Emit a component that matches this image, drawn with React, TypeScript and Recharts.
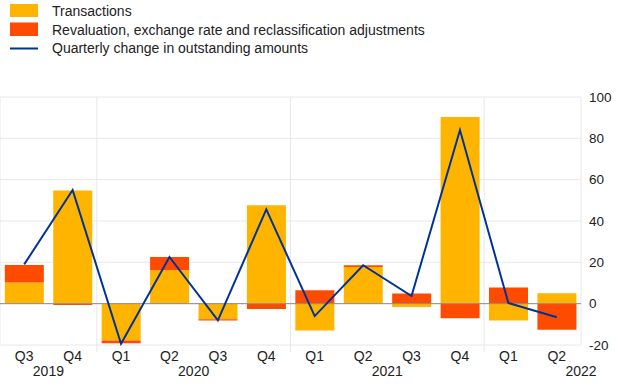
import React from "react";
import {
  ComposedChart,
  Bar,
  Line,
  XAxis,
  YAxis,
  CartesianGrid,
  ReferenceLine,
} from "recharts";

// ---- data ----
const quarters = ["Q3", "Q4", "Q1", "Q2", "Q3", "Q4", "Q1", "Q2", "Q3", "Q4", "Q1", "Q2"];
const years = ["2019", "2019", "2020", "2020", "2020", "2020", "2021", "2021", "2021", "2021", "2022", "2022"];
const transactions = [10.3, 54.7, -17.8, 16.2, -7.6, 47.6, -13.0, 17.8, -1.6, 90.3, -8.1, 5.1];
const revaluation = [8.4, -0.6, -1.3, 6.4, -0.5, -2.6, 6.5, 0.8, 4.9, -7.0, 7.8, -12.6];
const quarterlyChange = [19.0, 55.0, -19.4, 22.6, -8.1, 45.6, -6.0, 18.6, 3.7, 84.0, 0.3, -6.6];
const yTicks = [-20, 0, 20, 40, 60, 80, 100];

const seriesNames = {
  transactions: "Transactions",
  revaluation: "Revaluation, exchange rate and reclassification adjustments",
  change: "Quarterly change in outstanding amounts",
};

// ---- layout / style ----
const W = 620;
const H = 387;
const Y_AXIS_W = 39;
const PLOT_W = W - Y_AXIS_W;
const FONT = "'Liberation Sans', Arial, sans-serif";
const YELLOW = "#FFB400";
const ORANGE = "#FF4B00";
const BLUE = "#003299";
const TEXT = "#222";
const GRID = "#e8e8e8";
// shift of the year label from the first quarter tick of that year, in category steps
const yearShift: Record<string, number> = { "2019": 0.5, "2020": 1.5, "2021": 1.5, "2022": 1.5 };

const data = quarters.map((q, i) => ({
  key: `${q} ${years[i]}`,
  transactions: transactions[i],
  revaluation: revaluation[i],
  change: quarterlyChange[i],
}));

const yearBoundaries = [0];
years.forEach((y, i) => {
  if (i > 0 && y !== years[i - 1]) yearBoundaries.push(i);
});
yearBoundaries.push(years.length);

const QuarterTick = (props: any) => {
  const { x, y, index } = props;
  const step = PLOT_W / quarters.length;
  const isFirst = index === 0 || years[index] !== years[index - 1];
  return (
    <g>
      {isFirst && index > 0 && (
        <line x1={x - step / 2} x2={x - step / 2} y1={y - 8} y2={y - 1} stroke={GRID} />
      )}
      <text x={x} y={y} dy={8} textAnchor="middle" fontSize={14} fill={TEXT} fontFamily={FONT}>
        {quarters[index]}
      </text>
      {isFirst && (
        <text
          x={x + yearShift[years[index]] * step}
          y={y}
          dy={23}
          textAnchor="middle"
          fontSize={14}
          fill={TEXT}
          fontFamily={FONT}
        >
          {years[index]}
        </text>
      )}
    </g>
  );
};

const Legend = () => (
  <svg
    width={W}
    height={60}
    style={{ position: "absolute", left: 0, top: 0, pointerEvents: "none" }}
  >
    <rect x={10} y={4} width={28} height={13} fill={YELLOW} />
    <text x={52} y={16} fontSize={14} fill={TEXT} fontFamily={FONT}>
      {seriesNames.transactions}
    </text>
    <rect x={10} y={22.5} width={28} height={13.5} fill={ORANGE} />
    <text x={52} y={34.5} fontSize={14} fill={TEXT} fontFamily={FONT}>
      {seriesNames.revaluation}
    </text>
    <line x1={10} x2={38} y1={48.5} y2={48.5} stroke={BLUE} strokeWidth={2} />
    <text x={52} y={53} fontSize={14} fill={TEXT} fontFamily={FONT}>
      {seriesNames.change}
    </text>
  </svg>
);

export default function App() {
  return (
    <div style={{ position: "absolute", left: 0, top: 0, width: W, height: H, background: "#fff" }}>
      <ComposedChart
        width={W}
        height={H}
        data={data}
        stackOffset="sign"
        barCategoryGap="10%"
        margin={{ top: 97, right: 0, bottom: 0, left: 0 }}
      >
        <CartesianGrid
          stroke={GRID}
          verticalCoordinatesGenerator={({ offset }: any) =>
            yearBoundaries.map((k) => offset.left + (offset.width * k) / years.length)
          }
        />
        <XAxis
          dataKey="key"
          interval={0}
          height={42}
          tickLine={false}
          axisLine={false}
          tick={<QuarterTick />}
        />
        <YAxis
          orientation="right"
          width={Y_AXIS_W}
          domain={[-20, 100]}
          ticks={yTicks}
          tickLine={false}
          axisLine={false}
          tick={{ fontSize: 13.5, fill: TEXT, fontFamily: FONT, textAnchor: "start" }}
        />
        <ReferenceLine y={0} stroke="#8c8c8c" strokeWidth={1} />
        <Bar dataKey="transactions" stackId="a" fill={YELLOW} isAnimationActive={false} />
        <Bar dataKey="revaluation" stackId="a" fill={ORANGE} isAnimationActive={false} />
        <Line
          dataKey="change"
          type="linear"
          stroke={BLUE}
          strokeWidth={2}
          dot={false}
          activeDot={false}
          isAnimationActive={false}
        />
      </ComposedChart>
      <Legend />
    </div>
  );
}
